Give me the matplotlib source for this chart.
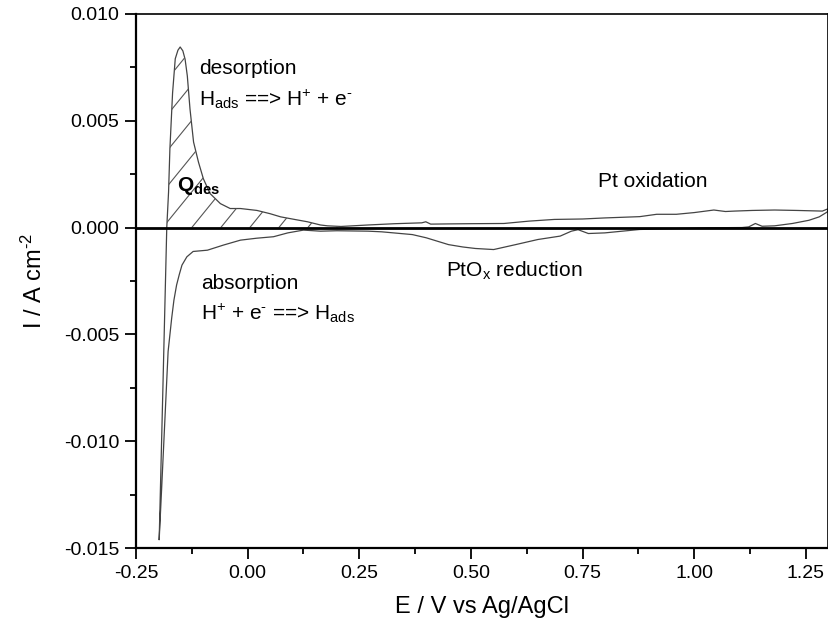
import numpy as np
import matplotlib
matplotlib.use("Agg")
import matplotlib.pyplot as plt
from matplotlib.ticker import MultipleLocator, FormatStrFormatter

plt.rcParams["font.family"] = ["Liberation Sans", "DejaVu Sans"]
plt.rcParams["mathtext.fontset"] = "custom"
plt.rcParams["mathtext.rm"] = "Liberation Sans"
plt.rcParams["mathtext.it"] = "Liberation Sans:italic"
plt.rcParams["mathtext.bf"] = "Liberation Sans:bold"

# anodic sweep, E in V vs Ag/AgCl, I in mA cm^-2
e_anodic = [-0.198, -0.190, -0.181, -0.177, -0.174, -0.168, -0.162, -0.156,
            -0.151, -0.145, -0.140, -0.135, -0.129, -0.121, -0.110, -0.099,
            -0.084, -0.061, -0.039, -0.016, 0.021, 0.050, 0.074, 0.105,
            0.134, 0.163, 0.179, 0.209, 0.270, 0.330, 0.390, 0.399, 0.410,
            0.450, 0.500, 0.574, 0.630, 0.687, 0.750, 0.800, 0.878, 0.916,
            0.960, 1.000, 1.044, 1.070, 1.090, 1.130, 1.180, 1.230, 1.287,
            1.300]
i_anodic = [-14.6, -7.8, 0.0, 1.66, 3.68, 6.3, 7.9, 8.3,
            8.45, 8.27, 7.88, 7.1, 5.55, 4.0, 3.06, 2.28,
            1.59, 1.12, 0.89, 0.89, 0.80, 0.65, 0.50, 0.38,
            0.27, 0.12, 0.08, 0.05, 0.12, 0.18, 0.22, 0.27, 0.16,
            0.17, 0.18, 0.19, 0.30, 0.38, 0.40, 0.45, 0.51, 0.62,
            0.62, 0.70, 0.82, 0.75, 0.77, 0.80, 0.82, 0.80, 0.77,
            0.88]

# cathodic sweep back to the hydrogen region
e_cathodic = [1.300, 1.298, 1.280, 1.257, 1.220, 1.180, 1.152, 1.137, 1.122,
              1.107, 1.030, 0.960, 0.878, 0.800, 0.763, 0.740, 0.725, 0.700,
              0.650, 0.600, 0.551, 0.510, 0.482, 0.450, 0.400, 0.369, 0.300,
              0.270, 0.200, 0.163, 0.125, 0.090, 0.058, 0.020, -0.016, -0.054,
              -0.090, -0.122, -0.136, -0.147, -0.153, -0.159, -0.165, -0.170,
              -0.178, -0.185, -0.192, -0.198]
i_cathodic = [0.88, 0.73, 0.50, 0.34, 0.19, 0.08, 0.06, 0.19, 0.03,
              0.0, -0.01, -0.05, -0.09, -0.25, -0.28, -0.10, -0.17, -0.40,
              -0.56, -0.80, -1.03, -0.98, -0.91, -0.80, -0.48, -0.33, -0.20,
              -0.17, -0.15, -0.17, -0.12, -0.25, -0.43, -0.50, -0.59, -0.82,
              -1.06, -1.12, -1.37, -1.76, -2.2, -2.69, -3.4, -4.24,
              -5.8, -8.9, -12.0, -14.6]

x_ticks = [-0.25, 0.00, 0.25, 0.50, 0.75, 1.00, 1.25]
y_ticks = [-0.015, -0.010, -0.005, 0.000, 0.005, 0.010]

e_an = np.array(e_anodic)
i_an = np.array(i_anodic) / 1000.0
e_ca = np.array(e_cathodic)
i_ca = np.array(i_cathodic) / 1000.0

fig = plt.figure(figsize=(8.29, 6.31), dpi=100)
ax = fig.add_axes([0.164, 0.1315, 0.835, 0.8465])

curve_color = "#444444"
ax.plot(np.concatenate([e_an, e_ca]), np.concatenate([i_an, i_ca]),
        color=curve_color, lw=0.9)
ax.axhline(0.0, color="black", lw=2.0, zorder=3)

# hydrogen desorption charge: region under the anodic peak, hatched by hand
mask = (e_an >= -0.181) & (e_an <= 0.21)
qfill = ax.fill_between(e_an[mask], 0, i_an[mask], facecolor="none",
                        edgecolor="none")
clip = qfill.get_paths()[0]
slope = 0.0257  # A per V, sets the hatch angle
for e0 in np.arange(-0.515, 0.25, 0.065):
    ln, = ax.plot([e0, e0 + 0.01 / slope], [0.0, 0.01], color="#555555",
                  lw=0.8)
    ln.set_clip_path(clip, ax.transData)

ax.set_xlim(-0.25, 1.30)
ax.set_ylim(-0.015, 0.010)
ax.set_xticks(x_ticks)
ax.set_yticks(y_ticks)
ax.xaxis.set_minor_locator(MultipleLocator(0.125))
ax.yaxis.set_minor_locator(MultipleLocator(0.0025))
ax.xaxis.set_major_formatter(FormatStrFormatter("%.2f"))
ax.yaxis.set_major_formatter(FormatStrFormatter("%.3f"))
ax.tick_params(which="major", direction="out", length=8, width=1.3,
               labelsize=14, pad=4)
ax.tick_params(which="minor", direction="out", length=4.5, width=1.3)
ax.tick_params(top=False, right=False, which="both")
for side in ["left", "bottom"]:
    ax.spines[side].set_linewidth(1.6)
for side in ["top", "right"]:
    ax.spines[side].set_linewidth(1.2)

ax.set_xlabel("E / V vs Ag/AgCl", fontsize=17, labelpad=10)
ax.set_ylabel(r"I / A cm$^{\text{-2}}$", fontsize=17, labelpad=12)

txt = dict(fontsize=15, color="black")
ax.text(-0.108, 0.0072, "desorption", **txt)
ax.text(-0.108, 0.0057,
        r"H$_{\text{ads}}$ ==> H$^{\text{+}}$ + e$^{\text{-}}$", **txt)
ax.text(-0.158, 0.0017, r"Q$_{\mathbf{des}}$", fontsize=15,
        fontweight="bold")
ax.text(0.785, 0.0019, "Pt oxidation", **txt)
ax.text(0.444, -0.0023, r"PtO$_{\text{x}}$ reduction", **txt)
ax.text(-0.105, -0.0029, "absorption", **txt)
ax.text(-0.105, -0.0043,
        r"H$^{\text{+}}$ + e$^{\text{-}}$ ==> H$_{\text{ads}}$", **txt)

fig.savefig("out.png", dpi=100)
